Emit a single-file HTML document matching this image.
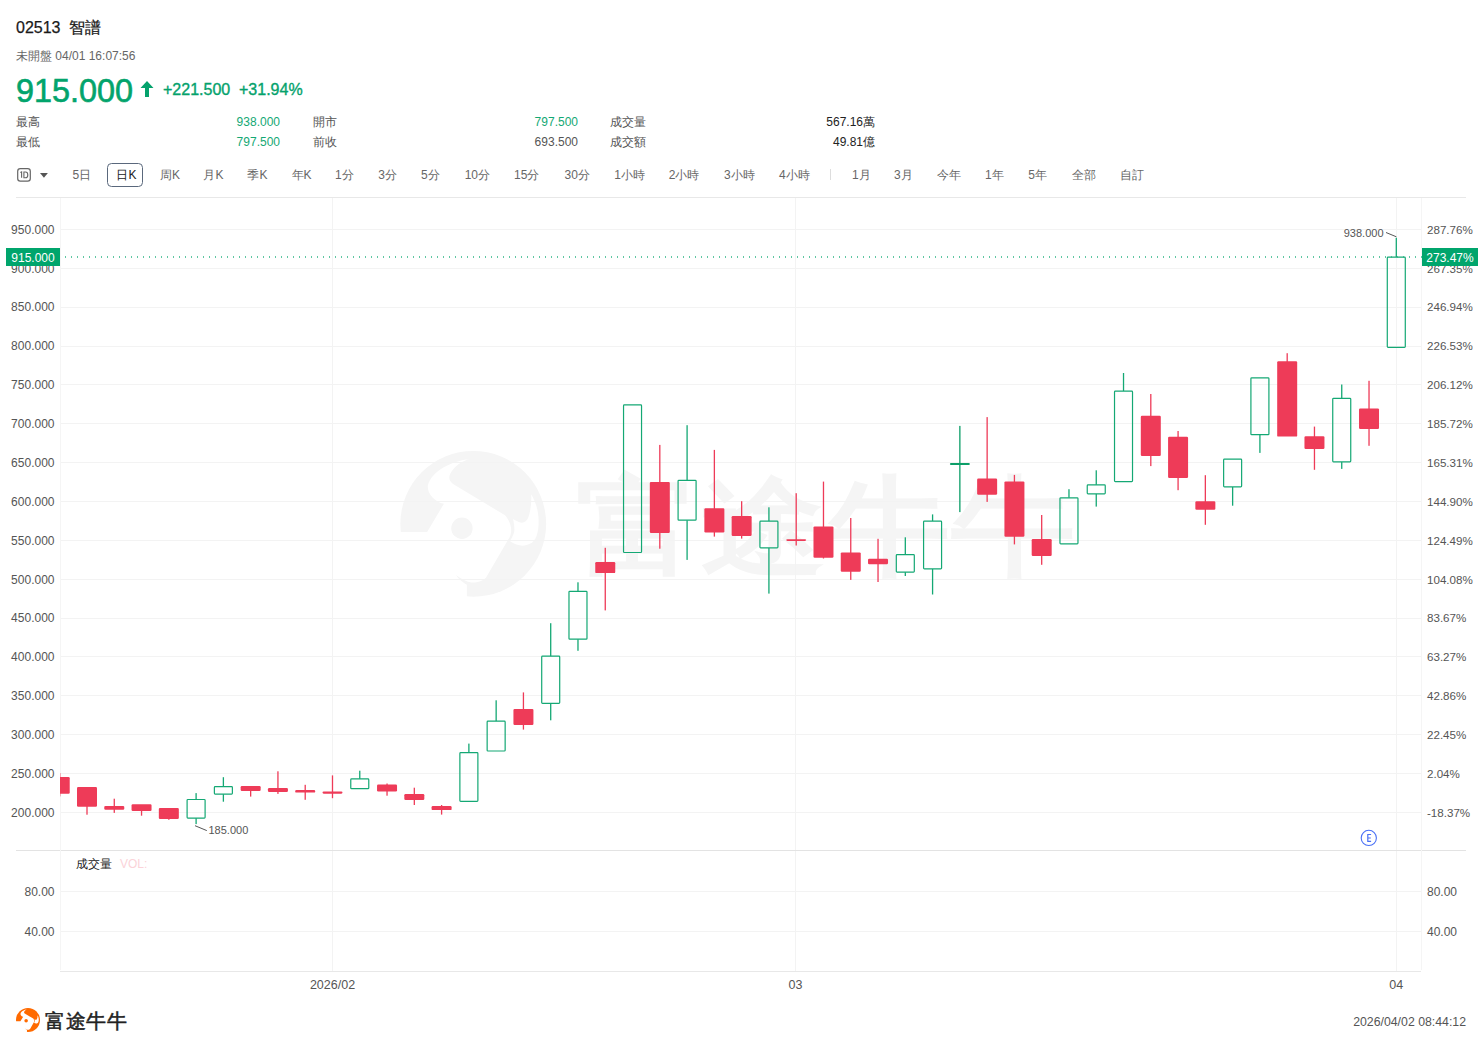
<!DOCTYPE html>
<html><head><meta charset="utf-8">
<style>
*{margin:0;padding:0;box-sizing:border-box}
html,body{width:1482px;height:1047px;overflow:hidden;background:#fff;font-family:"Liberation Sans",sans-serif;color:#222}
.abs{position:absolute;white-space:nowrap}
.title{left:16px;top:18px;font-size:16px;color:#1a1a1a;line-height:20px;-webkit-text-stroke:0.25px #1a1a1a}
.sub{left:16px;top:49px;font-size:12px;color:#666;line-height:14px}
.price{left:16px;top:73px;font-size:32.4px;color:#02A46C;line-height:36px;-webkit-text-stroke:0.6px #02A46C}
.chg{top:81px;font-size:16px;color:#04A26C;line-height:18px;-webkit-text-stroke:0.35px #04A26C}
.st{font-size:12px;line-height:14px;color:#555}
.stv{font-size:12px;line-height:14px;text-align:right}
.tab{position:absolute;top:168px;font-size:12px;line-height:15px;color:#666;white-space:nowrap}
.tab.sel{color:#1a1a1a}
svg text{font-family:"Liberation Sans",sans-serif;font-size:12px;fill:#555}
</style></head><body>
<div class="abs title">02513&nbsp; 智譜</div>
<div class="abs sub">未開盤 04/01 16:07:56</div>
<div class="abs price">915.000</div>
<svg class="abs" style="left:140px;top:81px" width="14" height="16" viewBox="0 0 14 16"><path d="M7 0 L13.5 7 L9 7 L9 16 L5 16 L5 7 L0.5 7 Z" fill="#04A26C"/></svg>
<div class="abs chg" style="left:163px">+221.500</div>
<div class="abs chg" style="left:239px">+31.94%</div>
<div class="abs st" style="left:16px;top:115px">最高</div>
<div class="abs st" style="left:16px;top:135px">最低</div>
<div class="abs stv" style="right:1202px;top:115px;color:#14A874">938.000</div>
<div class="abs stv" style="right:1202px;top:135px;color:#14A874">797.500</div>
<div class="abs st" style="left:313px;top:115px">開市</div>
<div class="abs st" style="left:313px;top:135px">前收</div>
<div class="abs stv" style="right:904px;top:115px;color:#14A874">797.500</div>
<div class="abs stv" style="right:904px;top:135px;color:#555">693.500</div>
<div class="abs st" style="left:610px;top:115px">成交量</div>
<div class="abs st" style="left:610px;top:135px">成交額</div>
<div class="abs stv" style="right:607px;top:115px;color:#222">567.16萬</div>
<div class="abs stv" style="right:607px;top:135px;color:#222">49.81億</div>
<svg class="abs" style="left:0;top:160px" width="60" height="30">
<rect x="17.7" y="8.7" width="12.6" height="12.4" rx="2.6" fill="none" stroke="#666" stroke-width="1.2"/>
<path d="M20.4 12.6 L21.6 11.9 L21.6 17.8" stroke="#666" stroke-width="1.1" fill="none"/>
<path d="M23.9 12 h1.6 a2.3 2.9 0 0 1 0 5.8 h-1.6 Z" stroke="#666" stroke-width="1.1" fill="none"/>
<path d="M40 13 L47.9 13 L43.95 17.7Z" fill="#555"/>
</svg>
<div class="abs" style="left:107px;top:163px;width:36px;height:24px;border:1px solid #5A687C;border-radius:4.5px"></div>
<div class="tab" style="left:72.5px">5日</div>
<div class="tab sel" style="left:116.4px">日K</div>
<div class="tab" style="left:160px">周K</div>
<div class="tab" style="left:203.4px">月K</div>
<div class="tab" style="left:247.4px">季K</div>
<div class="tab" style="left:291.5px">年K</div>
<div class="tab" style="left:335px">1分</div>
<div class="tab" style="left:378.2px">3分</div>
<div class="tab" style="left:421px">5分</div>
<div class="tab" style="left:464.7px">10分</div>
<div class="tab" style="left:514px">15分</div>
<div class="tab" style="left:564.5px">30分</div>
<div class="tab" style="left:614.2px">1小時</div>
<div class="tab" style="left:668.8px">2小時</div>
<div class="tab" style="left:723.9px">3小時</div>
<div class="tab" style="left:779.1px">4小時</div>
<div class="tab" style="left:851.9px">1月</div>
<div class="tab" style="left:894px">3月</div>
<div class="tab" style="left:937.2px">今年</div>
<div class="tab" style="left:985.1px">1年</div>
<div class="tab" style="left:1028.3px">5年</div>
<div class="tab" style="left:1071.5px">全部</div>
<div class="tab" style="left:1119.6px">自訂</div>
<div class="abs" style="left:830px;top:169px;width:1px;height:11px;background:#ddd"></div>
<svg class="abs" style="left:0;top:0" width="1482" height="1047">
<defs><clipPath id="cp"><rect x="60" y="198" width="1361" height="652"/></clipPath></defs>
<!-- watermark -->
<g transform="translate(395,445) scale(0.15281)">
<circle cx="512" cy="516" r="477" fill="#F5F5F5"/>
<path fill="#FFFFFF" d="M 490 92 C 370 105, 240 170, 215 265 C 210 320, 260 370, 320 385 L 210 570 L 0 570 L 0 1047 L 470 1047 L 470 915 C 440 895, 410 870, 400 850 C 440 880, 480 900, 510 900 C 550 900, 590 880, 600 860 L 740 620 C 770 580, 770 520, 720 460 L 380 255 C 350 235, 345 200, 380 160 C 410 125, 450 100, 490 92 Z"/>
<path fill="#FFFFFF" d="M 772 485 C 790 495, 810 508, 829 509 C 850 508, 864 493, 870 480 C 886 440, 895 380, 891 323 C 920 370, 940 430, 940 500 C 940 570, 925 630, 882 647 C 850 665, 800 665, 751 629 C 770 600, 785 570, 781 546 C 780 520, 776 500, 772 485 Z"/>
<circle cx="438" cy="545" r="70" fill="#F5F5F5"/>
</g>
<text transform="translate(576,564) scale(1.15,1)" x="0" y="0" style="font-size:108px;fill:#F5F5F5;font-weight:bold;letter-spacing:1px">富途牛牛</text>
<line x1="60" y1="229.5" x2="1421" y2="229.5" stroke="#F3F3F3" stroke-width="1"/>
<line x1="60" y1="268.5" x2="1421" y2="268.5" stroke="#F3F3F3" stroke-width="1"/>
<line x1="60" y1="307.5" x2="1421" y2="307.5" stroke="#F3F3F3" stroke-width="1"/>
<line x1="60" y1="346.5" x2="1421" y2="346.5" stroke="#F3F3F3" stroke-width="1"/>
<line x1="60" y1="384.5" x2="1421" y2="384.5" stroke="#F3F3F3" stroke-width="1"/>
<line x1="60" y1="423.5" x2="1421" y2="423.5" stroke="#F3F3F3" stroke-width="1"/>
<line x1="60" y1="462.5" x2="1421" y2="462.5" stroke="#F3F3F3" stroke-width="1"/>
<line x1="60" y1="501.5" x2="1421" y2="501.5" stroke="#F3F3F3" stroke-width="1"/>
<line x1="60" y1="540.5" x2="1421" y2="540.5" stroke="#F3F3F3" stroke-width="1"/>
<line x1="60" y1="579.5" x2="1421" y2="579.5" stroke="#F3F3F3" stroke-width="1"/>
<line x1="60" y1="618.5" x2="1421" y2="618.5" stroke="#F3F3F3" stroke-width="1"/>
<line x1="60" y1="656.5" x2="1421" y2="656.5" stroke="#F3F3F3" stroke-width="1"/>
<line x1="60" y1="695.5" x2="1421" y2="695.5" stroke="#F3F3F3" stroke-width="1"/>
<line x1="60" y1="734.5" x2="1421" y2="734.5" stroke="#F3F3F3" stroke-width="1"/>
<line x1="60" y1="773.5" x2="1421" y2="773.5" stroke="#F3F3F3" stroke-width="1"/>
<line x1="60" y1="812.5" x2="1421" y2="812.5" stroke="#F3F3F3" stroke-width="1"/>
<line x1="332.5" y1="198" x2="332.5" y2="971" stroke="#F3F3F3" stroke-width="1"/>
<line x1="795.5" y1="198" x2="795.5" y2="971" stroke="#F3F3F3" stroke-width="1"/>
<line x1="1396.5" y1="198" x2="1396.5" y2="971" stroke="#F3F3F3" stroke-width="1"/>
<line x1="60" y1="891.5" x2="1421" y2="891.5" stroke="#F3F3F3" stroke-width="1"/>
<line x1="60" y1="931.5" x2="1421" y2="931.5" stroke="#F3F3F3" stroke-width="1"/>
<line x1="16" y1="197.5" x2="1466" y2="197.5" stroke="#E8E8E8"/>
<line x1="16" y1="850.5" x2="1466" y2="850.5" stroke="#E3E3E3"/>
<line x1="60.5" y1="198" x2="60.5" y2="970" stroke="#F5F5F5"/>
<line x1="1421.5" y1="198" x2="1421.5" y2="970" stroke="#F5F5F5"/>
<line x1="60" y1="971.5" x2="1421" y2="971.5" stroke="#E8E8E8"/>
<text x="54.5" y="233.7" text-anchor="end">950.000</text>
<text x="54.5" y="272.6" text-anchor="end">900.000</text>
<text x="54.5" y="311.4" text-anchor="end">850.000</text>
<text x="54.5" y="350.3" text-anchor="end">800.000</text>
<text x="54.5" y="389.2" text-anchor="end">750.000</text>
<text x="54.5" y="428.0" text-anchor="end">700.000</text>
<text x="54.5" y="466.9" text-anchor="end">650.000</text>
<text x="54.5" y="505.8" text-anchor="end">600.000</text>
<text x="54.5" y="544.6" text-anchor="end">550.000</text>
<text x="54.5" y="583.5" text-anchor="end">500.000</text>
<text x="54.5" y="622.4" text-anchor="end">450.000</text>
<text x="54.5" y="661.2" text-anchor="end">400.000</text>
<text x="54.5" y="700.1" text-anchor="end">350.000</text>
<text x="54.5" y="739.0" text-anchor="end">300.000</text>
<text x="54.5" y="777.8" text-anchor="end">250.000</text>
<text x="54.5" y="816.7" text-anchor="end">200.000</text>
<text x="1427" y="233.7" style="font-size:11.6px">287.76%</text>
<text x="1427" y="272.6" style="font-size:11.6px">267.35%</text>
<text x="1427" y="311.4" style="font-size:11.6px">246.94%</text>
<text x="1427" y="350.3" style="font-size:11.6px">226.53%</text>
<text x="1427" y="389.2" style="font-size:11.6px">206.12%</text>
<text x="1427" y="428.0" style="font-size:11.6px">185.72%</text>
<text x="1427" y="466.9" style="font-size:11.6px">165.31%</text>
<text x="1427" y="505.8" style="font-size:11.6px">144.90%</text>
<text x="1427" y="544.6" style="font-size:11.6px">124.49%</text>
<text x="1427" y="583.5" style="font-size:11.6px">104.08%</text>
<text x="1427" y="622.4" style="font-size:11.6px">83.67%</text>
<text x="1427" y="661.2" style="font-size:11.6px">63.27%</text>
<text x="1427" y="700.1" style="font-size:11.6px">42.86%</text>
<text x="1427" y="739.0" style="font-size:11.6px">22.45%</text>
<text x="1427" y="777.8" style="font-size:11.6px">2.04%</text>
<text x="1427" y="816.7" style="font-size:11.6px">-18.37%</text>
<text x="54.5" y="895.8" text-anchor="end">80.00</text>
<text x="54.5" y="935.9" text-anchor="end">40.00</text>
<text x="1427" y="895.8">80.00</text>
<text x="1427" y="935.9">40.00</text>
<text x="332.5" y="989.3" text-anchor="middle" style="font-size:12.5px">2026/02</text>
<text x="795.5" y="989.3" text-anchor="middle" style="font-size:12.5px">03</text>
<text x="1396.3" y="989.3" text-anchor="middle" style="font-size:12.5px">04</text>
<g clip-path="url(#cp)">
<rect x="59.07" y="773.10" width="1.3" height="5.00" fill="#EE3B58"/>
<rect x="59.07" y="792.70" width="1.3" height="3.70" fill="#EE3B58"/>
<rect x="49.72" y="777.10" width="20" height="16.60" rx="1.2" fill="#EE3B58"/>
<rect x="86.35" y="805.80" width="1.3" height="8.90" fill="#EE3B58"/>
<rect x="77.00" y="787.00" width="20" height="19.80" rx="1.2" fill="#EE3B58"/>
<rect x="113.62" y="798.70" width="1.3" height="8.20" fill="#EE3B58"/>
<rect x="113.62" y="808.70" width="1.3" height="4.20" fill="#EE3B58"/>
<rect x="104.27" y="805.90" width="20" height="3.80" rx="1.2" fill="#EE3B58"/>
<rect x="140.90" y="809.90" width="1.3" height="5.80" fill="#EE3B58"/>
<rect x="131.55" y="804.30" width="20" height="6.60" rx="1.2" fill="#EE3B58"/>
<rect x="168.18" y="818.00" width="1.3" height="1.80" fill="#EE3B58"/>
<rect x="158.83" y="807.90" width="20" height="11.10" rx="1.2" fill="#EE3B58"/>
<rect x="195.45" y="793.10" width="1.3" height="6.30" fill="#14A874"/>
<rect x="195.45" y="818.20" width="1.3" height="5.90" fill="#14A874"/>
<rect x="187.10" y="799.50" width="18" height="18.60" rx="0.8" fill="none" stroke="#14A874" stroke-width="1.2"/>
<rect x="222.73" y="777.20" width="1.3" height="9.40" fill="#14A874"/>
<rect x="222.73" y="794.20" width="1.3" height="7.50" fill="#14A874"/>
<rect x="214.38" y="786.70" width="18" height="7.40" rx="0.8" fill="none" stroke="#14A874" stroke-width="1.2"/>
<rect x="250.01" y="789.90" width="1.3" height="6.70" fill="#EE3B58"/>
<rect x="240.66" y="786.10" width="20" height="4.80" rx="1.2" fill="#EE3B58"/>
<rect x="277.29" y="771.30" width="1.3" height="17.70" fill="#EE3B58"/>
<rect x="277.29" y="790.90" width="1.3" height="3.00" fill="#EE3B58"/>
<rect x="267.94" y="788.00" width="20" height="3.90" rx="1.2" fill="#EE3B58"/>
<rect x="304.56" y="784.80" width="1.3" height="6.20" fill="#EE3B58"/>
<rect x="304.56" y="791.60" width="1.3" height="8.20" fill="#EE3B58"/>
<rect x="295.21" y="790.00" width="20" height="2.60" rx="1.2" fill="#EE3B58"/>
<rect x="331.84" y="775.40" width="1.3" height="17.00" fill="#EE3B58"/>
<rect x="331.84" y="792.70" width="1.3" height="5.50" fill="#EE3B58"/>
<rect x="322.49" y="791.40" width="20" height="2.30" rx="1.2" fill="#EE3B58"/>
<rect x="359.12" y="770.70" width="1.3" height="8.10" fill="#14A874"/>
<rect x="350.77" y="778.90" width="18" height="9.80" rx="0.8" fill="none" stroke="#14A874" stroke-width="1.2"/>
<rect x="386.39" y="783.50" width="1.3" height="2.10" fill="#EE3B58"/>
<rect x="386.39" y="790.50" width="1.3" height="5.20" fill="#EE3B58"/>
<rect x="377.04" y="784.60" width="20" height="6.90" rx="1.2" fill="#EE3B58"/>
<rect x="413.67" y="787.70" width="1.3" height="7.30" fill="#EE3B58"/>
<rect x="413.67" y="799.00" width="1.3" height="6.00" fill="#EE3B58"/>
<rect x="404.32" y="794.00" width="20" height="6.00" rx="1.2" fill="#EE3B58"/>
<rect x="440.95" y="805.00" width="1.3" height="2.10" fill="#EE3B58"/>
<rect x="440.95" y="809.10" width="1.3" height="5.50" fill="#EE3B58"/>
<rect x="431.60" y="806.10" width="20" height="4.00" rx="1.2" fill="#EE3B58"/>
<rect x="468.23" y="743.60" width="1.3" height="9.00" fill="#14A874"/>
<rect x="459.88" y="752.70" width="18" height="48.60" rx="0.8" fill="none" stroke="#14A874" stroke-width="1.2"/>
<rect x="495.50" y="700.30" width="1.3" height="20.80" fill="#14A874"/>
<rect x="487.15" y="721.20" width="18" height="29.80" rx="0.8" fill="none" stroke="#14A874" stroke-width="1.2"/>
<rect x="522.78" y="692.40" width="1.3" height="17.50" fill="#EE3B58"/>
<rect x="522.78" y="723.90" width="1.3" height="5.70" fill="#EE3B58"/>
<rect x="513.43" y="708.90" width="20" height="16.00" rx="1.2" fill="#EE3B58"/>
<rect x="550.06" y="623.20" width="1.3" height="32.90" fill="#14A874"/>
<rect x="550.06" y="703.40" width="1.3" height="16.90" fill="#14A874"/>
<rect x="541.71" y="656.20" width="18" height="47.10" rx="0.8" fill="none" stroke="#14A874" stroke-width="1.2"/>
<rect x="577.33" y="582.30" width="1.3" height="8.90" fill="#14A874"/>
<rect x="577.33" y="639.30" width="1.3" height="11.50" fill="#14A874"/>
<rect x="568.98" y="591.30" width="18" height="47.90" rx="0.8" fill="none" stroke="#14A874" stroke-width="1.2"/>
<rect x="604.61" y="547.80" width="1.3" height="15.30" fill="#EE3B58"/>
<rect x="604.61" y="572.10" width="1.3" height="38.30" fill="#EE3B58"/>
<rect x="595.26" y="562.10" width="20" height="11.00" rx="1.2" fill="#EE3B58"/>
<rect x="623.54" y="404.90" width="18" height="147.60" rx="0.8" fill="none" stroke="#14A874" stroke-width="1.2"/>
<rect x="659.16" y="444.90" width="1.3" height="38.00" fill="#EE3B58"/>
<rect x="659.16" y="531.90" width="1.3" height="16.80" fill="#EE3B58"/>
<rect x="649.81" y="481.90" width="20" height="51.00" rx="1.2" fill="#EE3B58"/>
<rect x="686.44" y="425.20" width="1.3" height="55.00" fill="#14A874"/>
<rect x="686.44" y="520.30" width="1.3" height="39.60" fill="#14A874"/>
<rect x="678.09" y="480.30" width="18" height="39.90" rx="0.8" fill="none" stroke="#14A874" stroke-width="1.2"/>
<rect x="713.72" y="449.90" width="1.3" height="59.40" fill="#EE3B58"/>
<rect x="713.72" y="531.50" width="1.3" height="5.10" fill="#EE3B58"/>
<rect x="704.37" y="508.30" width="20" height="24.20" rx="1.2" fill="#EE3B58"/>
<rect x="741.00" y="501.20" width="1.3" height="15.90" fill="#EE3B58"/>
<rect x="741.00" y="534.90" width="1.3" height="3.70" fill="#EE3B58"/>
<rect x="731.65" y="516.10" width="20" height="19.80" rx="1.2" fill="#EE3B58"/>
<rect x="768.27" y="507.30" width="1.3" height="13.80" fill="#14A874"/>
<rect x="768.27" y="548.00" width="1.3" height="45.60" fill="#14A874"/>
<rect x="759.92" y="521.20" width="18" height="26.70" rx="0.8" fill="none" stroke="#14A874" stroke-width="1.2"/>
<rect x="795.55" y="493.20" width="1.3" height="47.10" fill="#EE3B58"/>
<rect x="795.55" y="539.90" width="1.3" height="5.60" fill="#EE3B58"/>
<rect x="786.20" y="539.30" width="20" height="1.60" rx="1.2" fill="#EE3B58"/>
<rect x="822.83" y="481.60" width="1.3" height="45.80" fill="#EE3B58"/>
<rect x="822.83" y="556.70" width="1.3" height="1.80" fill="#EE3B58"/>
<rect x="813.48" y="526.40" width="20" height="31.30" rx="1.2" fill="#EE3B58"/>
<rect x="850.10" y="518.00" width="1.3" height="35.40" fill="#EE3B58"/>
<rect x="850.10" y="570.80" width="1.3" height="9.10" fill="#EE3B58"/>
<rect x="840.75" y="552.40" width="20" height="19.40" rx="1.2" fill="#EE3B58"/>
<rect x="877.38" y="538.80" width="1.3" height="20.90" fill="#EE3B58"/>
<rect x="877.38" y="563.30" width="1.3" height="18.70" fill="#EE3B58"/>
<rect x="868.03" y="558.70" width="20" height="5.60" rx="1.2" fill="#EE3B58"/>
<rect x="904.66" y="537.30" width="1.3" height="17.30" fill="#14A874"/>
<rect x="904.66" y="572.20" width="1.3" height="3.80" fill="#14A874"/>
<rect x="896.31" y="554.70" width="18" height="17.40" rx="0.8" fill="none" stroke="#14A874" stroke-width="1.2"/>
<rect x="931.93" y="514.40" width="1.3" height="6.60" fill="#14A874"/>
<rect x="931.93" y="569.00" width="1.3" height="25.50" fill="#14A874"/>
<rect x="923.58" y="521.10" width="18" height="47.80" rx="0.8" fill="none" stroke="#14A874" stroke-width="1.2"/>
<rect x="959.21" y="425.90" width="1.3" height="38.10" fill="#0C9E68"/>
<rect x="959.21" y="464.00" width="1.3" height="48.10" fill="#0C9E68"/>
<rect x="949.86" y="463.00" width="20" height="2.00" rx="1.2" fill="#0C9E68"/>
<rect x="986.49" y="417.10" width="1.3" height="62.50" fill="#EE3B58"/>
<rect x="986.49" y="493.80" width="1.3" height="8.10" fill="#EE3B58"/>
<rect x="977.14" y="478.60" width="20" height="16.20" rx="1.2" fill="#EE3B58"/>
<rect x="1013.77" y="474.90" width="1.3" height="7.50" fill="#EE3B58"/>
<rect x="1013.77" y="535.70" width="1.3" height="8.70" fill="#EE3B58"/>
<rect x="1004.42" y="481.40" width="20" height="55.30" rx="1.2" fill="#EE3B58"/>
<rect x="1041.04" y="515.00" width="1.3" height="25.00" fill="#EE3B58"/>
<rect x="1041.04" y="555.00" width="1.3" height="9.80" fill="#EE3B58"/>
<rect x="1031.69" y="539.00" width="20" height="17.00" rx="1.2" fill="#EE3B58"/>
<rect x="1068.32" y="489.20" width="1.3" height="8.50" fill="#14A874"/>
<rect x="1059.97" y="497.80" width="18" height="46.00" rx="0.8" fill="none" stroke="#14A874" stroke-width="1.2"/>
<rect x="1095.60" y="470.30" width="1.3" height="14.50" fill="#14A874"/>
<rect x="1095.60" y="493.90" width="1.3" height="12.70" fill="#14A874"/>
<rect x="1087.25" y="484.90" width="18" height="8.90" rx="0.8" fill="none" stroke="#14A874" stroke-width="1.2"/>
<rect x="1122.87" y="373.00" width="1.3" height="18.00" fill="#14A874"/>
<rect x="1114.52" y="391.10" width="18" height="90.50" rx="0.8" fill="none" stroke="#14A874" stroke-width="1.2"/>
<rect x="1150.15" y="394.00" width="1.3" height="22.70" fill="#EE3B58"/>
<rect x="1150.15" y="455.00" width="1.3" height="11.10" fill="#EE3B58"/>
<rect x="1140.80" y="415.70" width="20" height="40.30" rx="1.2" fill="#EE3B58"/>
<rect x="1177.43" y="431.00" width="1.3" height="6.70" fill="#EE3B58"/>
<rect x="1177.43" y="477.00" width="1.3" height="13.20" fill="#EE3B58"/>
<rect x="1168.08" y="436.70" width="20" height="41.30" rx="1.2" fill="#EE3B58"/>
<rect x="1204.70" y="475.20" width="1.3" height="27.00" fill="#EE3B58"/>
<rect x="1204.70" y="508.70" width="1.3" height="16.10" fill="#EE3B58"/>
<rect x="1195.35" y="501.20" width="20" height="8.50" rx="1.2" fill="#EE3B58"/>
<rect x="1231.98" y="487.00" width="1.3" height="18.70" fill="#14A874"/>
<rect x="1223.63" y="459.10" width="18" height="27.80" rx="0.8" fill="none" stroke="#14A874" stroke-width="1.2"/>
<rect x="1259.26" y="434.80" width="1.3" height="18.10" fill="#14A874"/>
<rect x="1250.91" y="377.80" width="18" height="56.90" rx="0.8" fill="none" stroke="#14A874" stroke-width="1.2"/>
<rect x="1286.54" y="353.20" width="1.3" height="9.00" fill="#EE3B58"/>
<rect x="1277.19" y="361.20" width="20" height="75.40" rx="1.2" fill="#EE3B58"/>
<rect x="1313.81" y="426.60" width="1.3" height="10.60" fill="#EE3B58"/>
<rect x="1313.81" y="447.90" width="1.3" height="21.90" fill="#EE3B58"/>
<rect x="1304.46" y="436.20" width="20" height="12.70" rx="1.2" fill="#EE3B58"/>
<rect x="1341.09" y="384.50" width="1.3" height="13.70" fill="#14A874"/>
<rect x="1341.09" y="462.00" width="1.3" height="6.90" fill="#14A874"/>
<rect x="1332.74" y="398.30" width="18" height="63.60" rx="0.8" fill="none" stroke="#14A874" stroke-width="1.2"/>
<rect x="1368.37" y="380.80" width="1.3" height="28.60" fill="#EE3B58"/>
<rect x="1368.37" y="427.90" width="1.3" height="17.90" fill="#EE3B58"/>
<rect x="1359.02" y="408.40" width="20" height="20.50" rx="1.2" fill="#EE3B58"/>
<rect x="1395.64" y="237.80" width="1.3" height="19.20" fill="#14A874"/>
<rect x="1387.29" y="257.10" width="18" height="90.20" rx="0.8" fill="none" stroke="#14A874" stroke-width="1.2"/>
</g>
<!-- current price line -->
<line x1="65" y1="257" x2="1422" y2="257" stroke="#2DB585" stroke-width="1.6" stroke-dasharray="1 5"/>
<rect x="6" y="248" width="54" height="18" fill="#00A56C"/>
<text x="33" y="262" text-anchor="middle" style="fill:#fff">915.000</text>
<rect x="1422" y="248" width="56" height="18" fill="#00A56C"/>
<text x="1450" y="262" text-anchor="middle" style="fill:#fff">273.47%</text>
<!-- 938 label -->
<path d="M1386 232.5 L1396.4 236.8" stroke="#555" stroke-width="1" fill="none"/>
<text x="1383.5" y="236.6" text-anchor="end" style="font-size:11px">938.000</text>
<!-- 185 label -->
<path d="M195 825.7 L206.8 830.6" stroke="#555" stroke-width="1" fill="none"/>
<text x="208.5" y="834" style="font-size:11px">185.000</text>
<!-- E marker -->
<circle cx="1368.8" cy="837.9" r="7.6" fill="#fff" stroke="#4A70F5" stroke-width="1.1"/>
<path d="M1367.2 834.5 h3.9 M1367.2 838 h3.6 M1367.2 841.4 h3.9 M1367.8 834 v7.9" stroke="#4A70F5" stroke-width="1.2" fill="none"/>
<text x="76" y="868" style="fill:#222">成交量</text>
<text x="120" y="868" style="fill:#FBD3D9">VOL:</text>
<!-- footer -->
<g transform="translate(15.12,1007.02) scale(0.025157)"><circle cx="512" cy="516" r="477" fill="#FF6A00"/>
<path fill="#FFFFFF" d="M 490 92 C 370 105, 240 170, 215 265 C 210 320, 260 370, 320 385 L 210 570 L 0 570 L 0 1047 L 470 1047 L 470 915 C 440 895, 410 870, 400 850 C 440 880, 480 900, 510 900 C 550 900, 590 880, 600 860 L 740 620 C 770 580, 770 520, 720 460 L 380 255 C 350 235, 345 200, 380 160 C 410 125, 450 100, 490 92 Z"/>
<path fill="#FFFFFF" d="M 772 485 C 790 495, 810 508, 829 509 C 850 508, 864 493, 870 480 C 886 440, 895 380, 891 323 C 920 370, 940 430, 940 500 C 940 570, 925 630, 882 647 C 850 665, 800 665, 751 629 C 770 600, 785 570, 781 546 C 780 520, 776 500, 772 485 Z"/>
<circle cx="438" cy="545" r="70" fill="#FF6A00"/></g>
<text x="45" y="1028" style="font-size:20px;fill:#222;stroke:#222;stroke-width:0.5px;letter-spacing:0.7px">富途牛牛</text>
<text x="1466" y="1026" text-anchor="end" style="fill:#555;font-size:12.3px">2026/04/02 08:44:12</text>
</svg>
</body></html>
